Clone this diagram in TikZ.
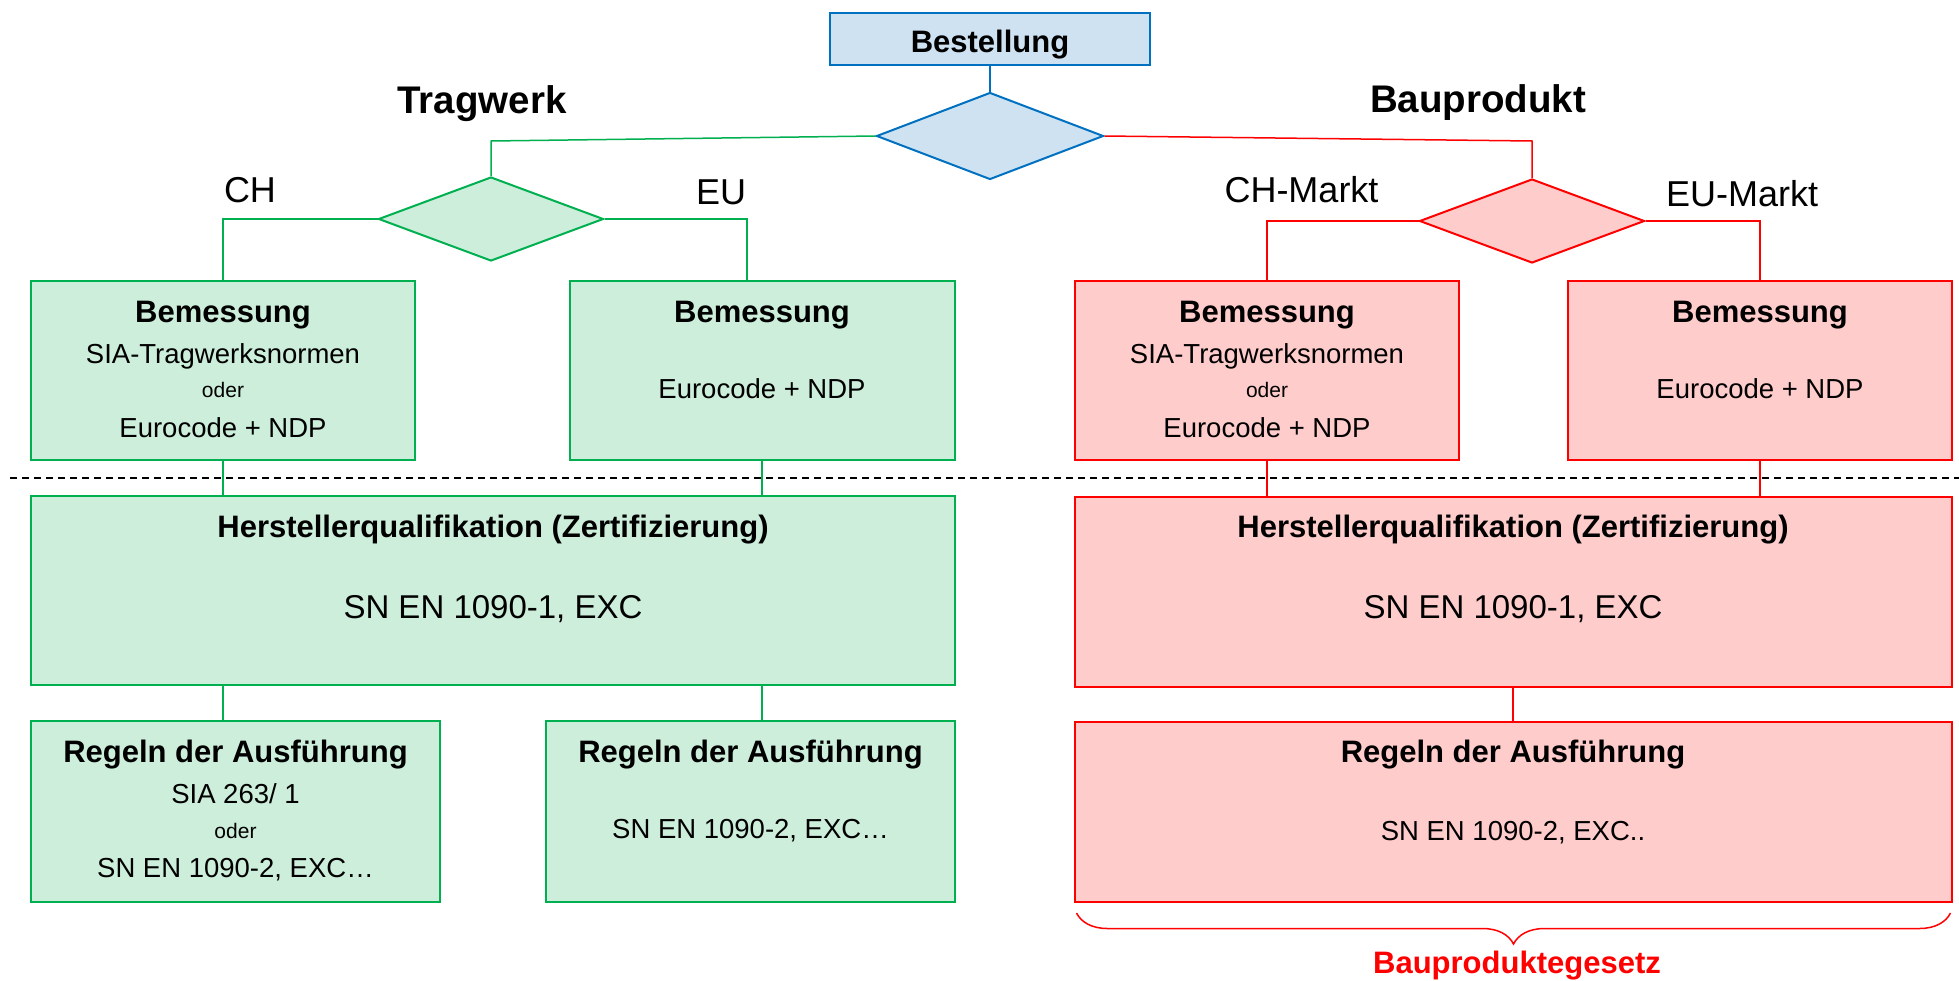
\documentclass[tikz,border=0pt]{standalone}
\usepackage{fontspec}
\setmainfont{Liberation Sans}
\usepackage{xcolor}
\usetikzlibrary{shapes.geometric, decorations.pathreplacing}

\definecolor{bluline}{HTML}{0070C0}
\definecolor{blufill}{HTML}{CEE2F2}
\definecolor{grnline}{HTML}{00B050}
\definecolor{grnfill}{HTML}{CCEEDB}
\definecolor{redline}{HTML}{FF0000}
\definecolor{redfill}{HTML}{FFCCCC}

\begin{document}
\begin{tikzpicture}[x=1pt, y=-1pt,
            box/.style={rectangle, draw, line width=2pt, inner sep=0pt},
            bbox/.style={box, draw=bluline, fill=blufill},
            gbox/.style={box, draw=grnline, fill=grnfill},
            rbox/.style={box, draw=redline, fill=redfill},
            dia/.style={diamond, draw, line width=2pt, inner sep=0pt, minimum width=225pt, minimum height=84pt},
            glink/.style={draw=grnline, line width=1.5pt},
            rlink/.style={draw=redline, line width=1.5pt},
            head/.style={anchor=base, font=\fontsize{38.5}{46}\selectfont\bfseries},
            branch/.style={anchor=base, font=\fontsize{36}{43}\selectfont},
            ttl/.style={anchor=base, font=\fontsize{31}{37}\selectfont\bfseries},
            txt/.style={anchor=base, font=\fontsize{27.5}{33}\selectfont},
            sml/.style={anchor=base, font=\fontsize{21}{25}\selectfont},
            big/.style={anchor=base, font=\fontsize{33}{40}\selectfont}]
            \useasboundingbox (0,0) rectangle (1959,980);

            % Nodes
            \node[bbox, minimum width=320pt, minimum height=52pt] (bst) at (990,38.5) {};
            \node[ttl] (bsttxt) at (990,52) {Bestellung};
            \node[dia, draw=bluline, fill=blufill, minimum width=227pt, minimum height=87pt] (bdia) at (990,136) {};
            \node[dia, draw=grnline, fill=grnfill] (gdia) at (491,219) {};
            \node[dia, draw=redline, fill=redfill] (rdia) at (1532,221) {};

            \node[head] (tw) at (482,113) {Tragwerk};
            \node[head] (bp) at (1478,112) {Bauprodukt};
            \node[branch] (ch) at (250,202) {CH};
            \node[branch] (eu) at (721,204) {EU};
            \node[branch] (chm) at (1301.5,202) {CH-Markt};
            \node[branch] (eum) at (1742,206) {EU-Markt};

            % Tragwerk
            \node[gbox, minimum width=384pt, minimum height=179pt] (gb1) at (223,370.5) {};
            \node[ttl] (gb1a) at (223,322) {Bemessung};
            \node[txt] (gb1b) at (223,363) {SIA-Tragwerksnormen};
            \node[sml] (gb1c) at (223,397) {oder};
            \node[txt] (gb1d) at (223,437) {Eurocode + NDP};

            \node[gbox, minimum width=385pt, minimum height=179pt] (gb2) at (762,370.5) {};
            \node[ttl] (gb2a) at (762,322) {Bemessung};
            \node[txt] (gb2b) at (762,398) {Eurocode + NDP};

            \node[gbox, minimum width=924pt, minimum height=189pt] (gher) at (493,590.5) {};
            \node[ttl] (ghera) at (493,537) {Herstellerqualifikation (Zertifizierung)};
            \node[big] (gherb) at (493,618) {SN EN 1090-1, EXC};

            \node[gbox, minimum width=409pt, minimum height=181pt] (gr1) at (235.5,811.5) {};
            \node[ttl] (gr1a) at (235.5,762) {Regeln der Ausführung};
            \node[txt] (gr1b) at (235.5,803) {SIA 263/ 1};
            \node[sml] (gr1c) at (235.5,838) {oder};
            \node[txt] (gr1d) at (235.5,877) {SN EN 1090-2, EXC…};

            \node[gbox, minimum width=409pt, minimum height=181pt] (gr2) at (750.5,811.5) {};
            \node[ttl] (gr2a) at (750.5,762) {Regeln der Ausführung};
            \node[txt] (gr2b) at (750.5,838) {SN EN 1090-2, EXC…};

            % Bauprodukt
            \node[rbox, minimum width=384pt, minimum height=179pt] (rb1) at (1267,370.5) {};
            \node[ttl] (rb1a) at (1267,322) {Bemessung};
            \node[txt] (rb1b) at (1267,363) {SIA-Tragwerksnormen};
            \node[sml] (rb1c) at (1267,397) {oder};
            \node[txt] (rb1d) at (1267,437) {Eurocode + NDP};

            \node[rbox, minimum width=384pt, minimum height=179pt] (rb2) at (1760,370.5) {};
            \node[ttl] (rb2a) at (1760,322) {Bemessung};
            \node[txt] (rb2b) at (1760,398) {Eurocode + NDP};

            \node[rbox, minimum width=877pt, minimum height=190pt] (rher) at (1513,592) {};
            \node[ttl] (rhera) at (1513,537) {Herstellerqualifikation (Zertifizierung)};
            \node[big] (rherb) at (1513,618) {SN EN 1090-1, EXC};

            \node[rbox, minimum width=877pt, minimum height=180pt] (rr1) at (1513,812) {};
            \node[ttl] (rr1a) at (1513,762) {Regeln der Ausführung};
            \node[txt] (rr1b) at (1513,840) {SN EN 1090-2, EXC..};

            \node[ttl, text=redline] (bpg) at (1517,973) {Bauproduktegesetz};

            \coordinate (gturn) at (491,141);
            \coordinate (rturn) at (1532,141);

            % Edges
            \draw[draw=bluline, line width=1.5pt] (bst.south) -- (bdia.north);
            \draw[glink] (bdia.west) -- (gturn) -- (gdia.north);
            \draw[rlink] (bdia.east) -- (rturn) -- (rdia.north);

            \draw[glink] (gdia.west) -| (gb1.north);
            \draw[glink] (gdia.east) -| ([xshift=-15pt]gb2.north);
            \draw[rlink] (rdia.west) -| (rb1.north);
            \draw[rlink] (rdia.east) -| (rb2.north);

            \draw[glink] (gb1.south) -- (gb1.south |- gher.north);
            \draw[glink] (gb2.south) -- (gb2.south |- gher.north);
            \draw[glink] (gb1.south |- gher.south) -- (gb1.south |- gr1.north);
            \draw[glink] (gb2.south |- gher.south) -- (gb2.south |- gr2.north);

            \draw[rlink] (rb1.south) -- (rb1.south |- rher.north);
            \draw[rlink] (rb2.south) -- (rb2.south |- rher.north);
            \draw[rlink] (rher.south) -- (rr1.north);

            % divider and brace
            \draw[line width=1.5pt, dash pattern=on 7pt off 5pt] (10,478) -- (1959,478);
            \draw[redline, line width=1.5pt, decorate, decoration={brace, mirror, amplitude=31pt}]
                ([xshift=3pt, yshift=-10pt]rr1.south west) -- ([xshift=-2pt, yshift=-10pt]rr1.south east);
    \end{tikzpicture}
\end{document}
